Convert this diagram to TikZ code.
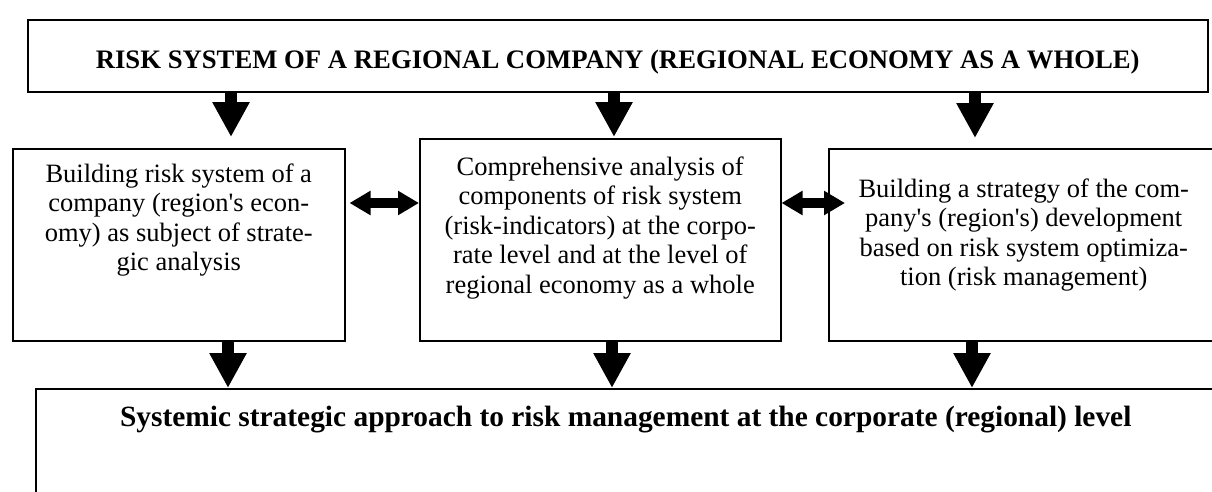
\documentclass[tikz,border=0pt]{standalone}
\usepackage{fontspec}
\setmainfont{Liberation Serif}
\usepackage{tikz}
\usetikzlibrary{arrows.meta}

\newcommand{\boxtext}[4]{\parbox[c][#1pt][t]{#2pt}{\centering\vspace*{#3pt}\strut #4}}
\tikzset{
	frame/.style={draw=black, line width=1.5pt, inner sep=0pt, anchor=north west, font=\fontsize{26.5}{29.5}\selectfont},
	headframe/.style={frame, font=\fontsize{26.7}{33}\selectfont\bfseries},
	footframe/.style={frame, font=\fontsize{29.4}{33}\selectfont\bfseries},
	bigarrow/.style={line width=12pt, -{Triangle[width=35pt,length=35pt]}},
	duoarrow/.style={line width=10pt, {Triangle[width=23pt,length=21pt]}-{Triangle[width=23pt,length=21pt]}}
}

\begin{document}
\begin{tikzpicture}[x=1pt,y=-1pt]
	
	\useasboundingbox (0,0) rectangle (1212,491);
	\clip (0,0) rectangle (1212,491);
	
	\node[headframe] (risk) at (27, 19)   {\boxtext{72}{1180}{26}{RISK SYSTEM OF A REGIONAL COMPANY (REGIONAL ECONOMY AS A WHOLE)}};
	\node[frame]     (lbox) at (12, 148)  {\boxtext{192}{332}{13}{Building risk system of a\\ company (region\textquotesingle s econ-\\ omy) as subject of strate-\\ gic analysis}};
	\node[frame]     (mbox) at (419, 138) {\boxtext{202}{361}{16}{Comprehensive analysis of\\ components of risk system\\ (risk-indicators) at the corpo-\\ rate level and at the level of\\ regional economy as a whole}};
	\node[frame]     (rbox) at (828, 148) {\boxtext{192}{390}{28}{Building a strategy of the com-\\ pany\textquotesingle s (region\textquotesingle s) development\\ based on risk system optimiza-\\ tion (risk management)}};
	\node[footframe] (sys)  at (35, 388)  {\boxtext{140}{1180}{15}{Systemic strategic approach to risk management at the corporate (regional) level}};
	
	\draw[bigarrow, shorten >=11pt] (risk.south -| 231,0) -- (lbox.north -| 231,0);
	\draw[bigarrow, shorten >=1pt]  (risk.south -| 614,0) -- (mbox.north -| 614,0);
	\draw[bigarrow, shorten >=10pt] (risk.south -| 975,0) -- (rbox.north -| 975,0);
	\draw[bigarrow] (lbox.south -| 228,0) -- (sys.north -| 228,0);
	\draw[bigarrow] (mbox.south -| 612,0) -- (sys.north -| 612,0);
	\draw[bigarrow] (rbox.south -| 972,0) -- (sys.north -| 972,0);
	\draw[duoarrow, shorten <=4pt]  (lbox.east |- 0,203) -- (mbox.west |- 0,203);
	\draw[duoarrow, shorten >=-17pt] (mbox.east |- 0,203) -- (rbox.west |- 0,203);
	
\end{tikzpicture}
\end{document}
